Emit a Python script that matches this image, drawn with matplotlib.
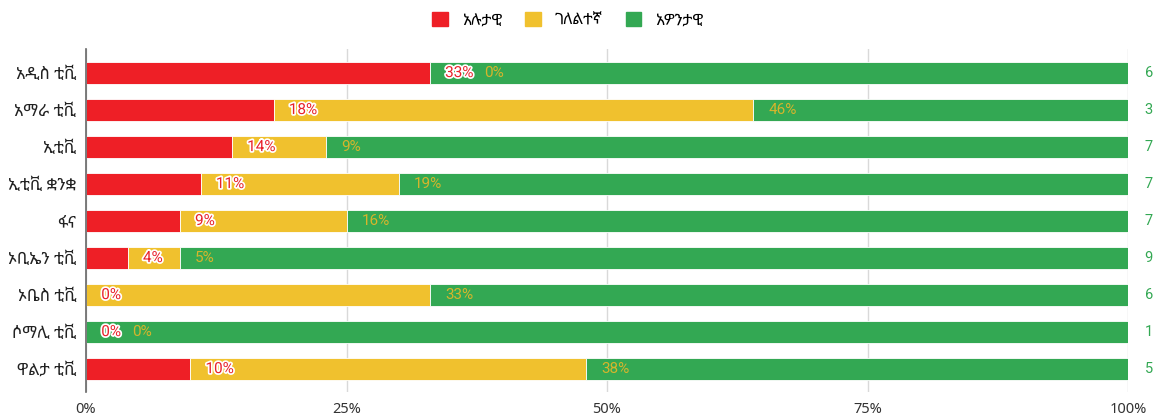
import matplotlib
matplotlib.use("Agg")
import matplotlib.pyplot as plt
import matplotlib.patheffects as pe
from matplotlib.patches import Patch
import numpy as np

categories = ["አዲስ ቲቪ", "አማራ ቲቪ", "ኢቲቪ", "ኢቲቪ ቋንቋ", "ፋና",
              "ኦቢኤን ቲቪ", "ኦቤስ ቲቪ", "ሶማሊ ቲቪ", "ዋልታ ቲቪ"]
negative = [33, 18, 14, 11, 9, 4, 0, 0, 10]
neutral = [0, 46, 9, 19, 16, 5, 33, 0, 38]
counts = [6, 3, 7, 7, 7, 9, 6, 1, 5]
series_names = ["አሉታዊ", "ገለልተኛ", "አዎንታዊ"]
positive = [100 - a - b for a, b in zip(negative, neutral)]

RED = "#EE1F26"
YELLOW = "#F0C12E"
GREEN = "#33A853"

ETH = ["Noto Sans Ethiopic", "DejaVu Sans"]
plt.rcParams["font.family"] = ["Roboto", "Noto Sans Ethiopic", "DejaVu Sans"]

fig = plt.figure(figsize=(11.54, 4.16), dpi=100)
ax = fig.add_axes([86 / 1154, 1 - 392 / 416, 1042 / 1154, 343 / 416])

y = np.arange(len(categories))
h = 0.6
ax.barh(y, negative, height=h, color=RED, edgecolor="white", linewidth=0.6, zorder=3)
ax.barh(y, neutral, left=negative, height=h, color=YELLOW, edgecolor="white", linewidth=0.6, zorder=3)
ax.barh(y, positive, left=np.add(negative, neutral), height=h, color=GREEN,
        edgecolor="white", linewidth=0.6, zorder=3)

stroke = [pe.withStroke(linewidth=2.5, foreground="white")]
for i in range(len(categories)):
    ax.annotate(f"{negative[i]}%", (negative[i], i), xytext=(11, 0), textcoords="offset points",
                ha="left", va="center", fontsize=11, color="#E8212A",
                path_effects=stroke, zorder=5)
    off = 11
    if neutral[i] < 3:
        off = 11 + (28 if negative[i] >= 10 else 22)
    ax.annotate(f"{neutral[i]}%", (negative[i] + neutral[i], i), xytext=(off, 0),
                textcoords="offset points", ha="left", va="center", fontsize=11,
                color="#D6B52C", zorder=5)
    ax.annotate(str(counts[i]), (100, i), xytext=(12, 0), textcoords="offset points",
                ha="left", va="center", fontsize=10.5, color=GREEN, zorder=5)

ax.set_xlim(0, 100)
ax.set_ylim(8.62, -0.65)
ax.set_xticks([0, 25, 50, 75, 100])
ax.set_xticklabels(["0%", "25%", "50%", "75%", "100%"], family=ETH)
ax.set_yticks(y)
ax.set_yticklabels(categories, family=ETH)
ax.tick_params(axis="x", length=0, pad=7, labelsize=10.5, labelcolor="#333333")
ax.tick_params(axis="y", length=0, pad=7, labelsize=12, labelcolor="#222222")
ax.grid(axis="x", color="#D9D9D9", linewidth=1, zorder=0)
for s in ["top", "right", "bottom"]:
    ax.spines[s].set_visible(False)
ax.spines["left"].set_color("#666666")
ax.spines["left"].set_linewidth(1.2)
ax.spines["left"].set_zorder(4)

handles = [Patch(color=c) for c in (RED, YELLOW, GREEN)]
fig.legend(handles, series_names, loc="center", bbox_to_anchor=(568 / 1154, 1 - 20 / 416),
           ncol=3, frameon=False, prop={"family": ETH, "size": 11.5},
           handlelength=0.95, handleheight=0.95, columnspacing=1.45, handletextpad=0.9)

fig.savefig("out.png", dpi=100)
